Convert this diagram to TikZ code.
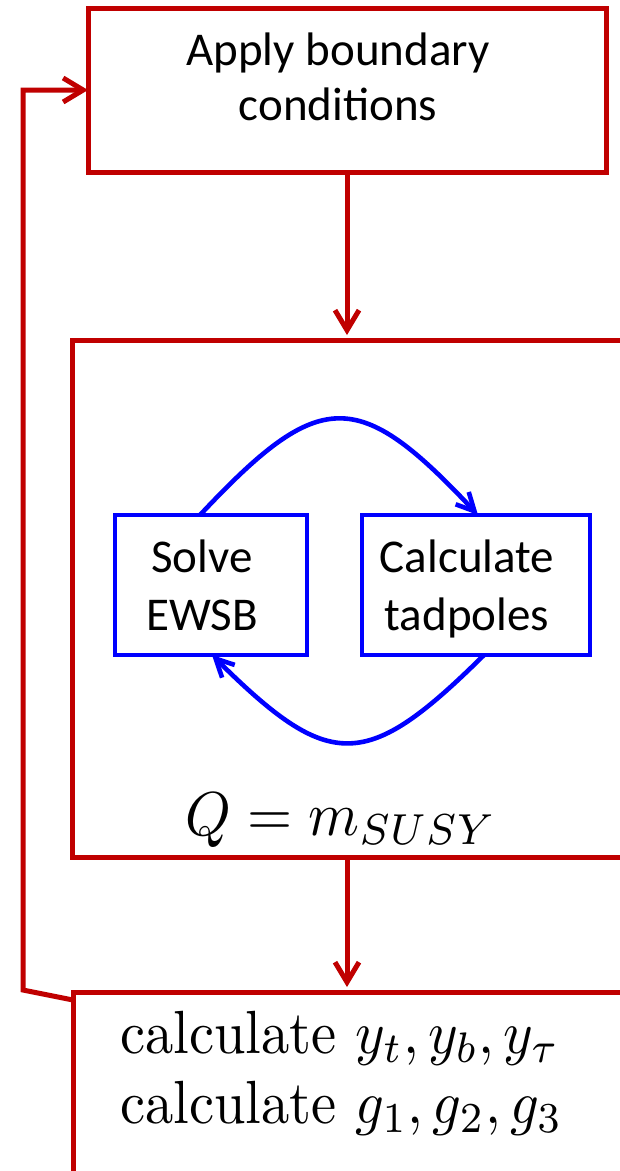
\documentclass[tikz,border=0pt]{standalone}
\usepackage{fontspec}
\newfontfamily\carlito{Carlito}
\usetikzlibrary{arrows.meta}
\definecolor{myred}{RGB}{192,0,0}
\definecolor{myblue}{RGB}{0,0,255}
\begin{document}
\begin{tikzpicture}[x=1pt,y=-1pt,
  redbox/.style={rectangle,draw=myred,line width=5pt,inner sep=0pt,outer sep=0pt},
  bluebox/.style={rectangle,draw=myblue,line width=4.6pt,inner sep=0pt,outer sep=0pt},
  redline/.style={draw=myred,line width=5pt},
  redarrow/.style={redline,-{Straight Barb[length=20pt,width=24pt]}},
  bluearrow/.style={draw=myblue,line width=4.6pt,-{Straight Barb[length=18pt,width=18pt]}},
  sanslabel/.style={font=\carlito\fontsize{47}{55}\selectfont,align=center,inner sep=0pt},
  mathlabel/.style={inner sep=0pt}]
\useasboundingbox (0,0) rectangle (620,1171);
\clip (0,0) rectangle (620,1171);
\fill[white] (0,0) rectangle (620,1171);
% boxes
\node[redbox,minimum width=518pt,minimum height=164pt] (apply) at (347,90) {};
\node[sanslabel,anchor=base] (applytxt) at (338,120) {Apply boundary\\conditions};
\node[redbox,minimum width=628pt,minimum height=517pt] (susy) at (386,598.5) {};
\node[redbox,minimum width=627pt,minimum height=268pt] (yuk) at (386.5,1126) {};
\node[bluebox,minimum width=192pt,minimum height=140pt] (ewsb) at (211,585) {};
\node[bluebox,minimum width=228pt,minimum height=140pt] (tad) at (476,585) {};
\node[sanslabel,font=\carlito\fontsize{47}{58}\selectfont,anchor=base] (ewsbtxt) at (202,630) {Solve\\EWSB};
\node[sanslabel,font=\carlito\fontsize{47}{58}\selectfont,anchor=base] (tadtxt) at (467,630) {Calculate\\tadpoles};
\node[mathlabel,anchor=base] (scale) at (341,835) {\scalebox{5.8}[6.2]{$Q=m_{SUSY}$}};
\node[mathlabel,anchor=base west] (line1) at (120,1053) {\scalebox{5.65}[6.1]{calculate $y_t,y_b,y_\tau$}};
\node[mathlabel,anchor=base west] (line2) at (120,1123) {\scalebox{5.65}[6.1]{calculate $g_1,g_2,g_3$}};
% connectors
\draw[redarrow,shorten >=5pt] (apply.south) -- (apply.south |- susy.north);
\draw[redarrow,shorten >=5pt] (apply.south |- susy.south) -- (apply.south |- yuk.north);
\draw[redarrow] ([yshift=-8pt]yuk.north west) -- ++(-50,-10) |- (apply.west);
\draw[bluearrow] ([xshift=85pt]ewsb.north west) .. controls +(120,-128) and +(-120,-128) .. ([xshift=116pt]tad.north west);
\draw[bluearrow] ([xshift=122pt]tad.south west) .. controls +(-118,117) and +(118,117) .. ([xshift=97pt]ewsb.south west);
\end{tikzpicture}
\end{document}
